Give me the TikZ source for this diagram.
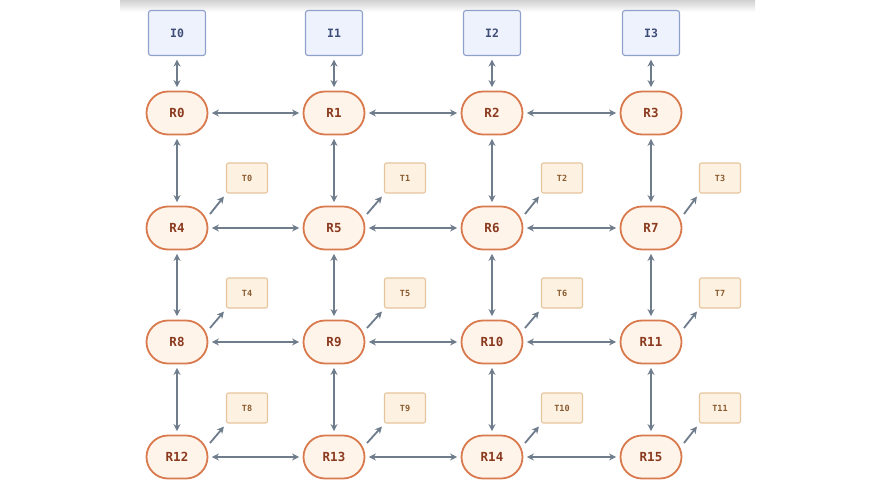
\documentclass[tikz,border=0pt]{standalone}
\usepackage{fontspec}
\setmonofont{DejaVu Sans Mono}
\usetikzlibrary{shapes.misc,arrows.meta}
\definecolor{ifill}{HTML}{EEF2FC}
\definecolor{idraw}{HTML}{8FA0CC}
\definecolor{itext}{HTML}{3E4C78}
\definecolor{rfill}{HTML}{FFF4EA}
\definecolor{rdraw}{HTML}{D97A4E}
\definecolor{rtext}{HTML}{8A3A1E}
\definecolor{tfill}{HTML}{FDF2E2}
\definecolor{tdraw}{HTML}{E6C49C}
\definecolor{ttext}{HTML}{8A5A2E}
\definecolor{lnk}{HTML}{6E7C8C}
\tikzset{
  ibox/.style={draw=idraw, fill=ifill, line width=1.1pt, rounded corners=2.5pt, minimum width=57pt, minimum height=45pt, inner sep=0pt, font=\ttfamily\bfseries\fontsize{11.5}{11.5}\selectfont, text=itext},
  rbox/.style={rounded rectangle, draw=rdraw, fill=rfill, line width=1.8pt, minimum width=61pt, minimum height=43pt, inner sep=0pt, font=\ttfamily\bfseries\fontsize{12.5}{12.5}\selectfont, text=rtext},
  tbox/.style={draw=tdraw, fill=tfill, line width=1.1pt, rounded corners=2pt, minimum width=41pt, minimum height=30pt, inner sep=0pt, font=\ttfamily\bfseries\fontsize{8.5}{8.5}\selectfont, text=ttext},
  link/.style={draw=lnk, line width=1.8pt, {Stealth[length=7pt,width=7pt]}-{Stealth[length=7pt,width=7pt]}, shorten <=3.5pt, shorten >=3.5pt},
  tlink/.style={draw=lnk, line width=1.8pt, -{Stealth[length=7pt,width=7pt]}}
}
\begin{document}
\begin{tikzpicture}[x=1pt,y=-1pt]
\useasboundingbox (0,0) rectangle (876,493);
\fill[white] (0,0) rectangle (876,493);
\shade[top color=black!18, bottom color=white] (120,0) rectangle (755,12);
% interface nodes
\foreach \i/\x in {0/177,1/334,2/492,3/651}{
  \node[ibox] (I\i) at (\x,33) {I\i};
}
% routers
\foreach \r/\y in {0/113,1/228,2/342,3/457}{
  \foreach \c/\x in {0/177,1/334,2/492,3/651}{
    \pgfmathtruncatemacro\n{\r*4+\c}
    \node[rbox] (R\n) at (\x,\y) {R\n};
  }
}
% tiles
\foreach \t/\x/\y in {0/247/178,1/405/178,2/562/178,3/720/178,
                      4/247/293,5/405/293,6/562/293,7/720/293,
                      8/247/408,9/405/408,10/562/408,11/720/408}{
  \node[tbox] (T\t) at (\x,\y) {T\t};
}
% interface links
\foreach \i in {0,1,2,3}{ \draw[link] (I\i) -- (R\i); }
% horizontal links
\foreach \a/\b in {0/1,1/2,2/3,4/5,5/6,6/7,8/9,9/10,10/11,12/13,13/14,14/15}{
  \draw[link] (R\a) -- (R\b);
}
% vertical links
\foreach \a/\b in {0/4,1/5,2/6,3/7,4/8,5/9,6/10,7/11,8/12,9/13,10/14,11/15}{
  \draw[link] (R\a) -- (R\b);
}
% router to tile links
\foreach \r/\t in {4/0,5/1,6/2,7/3,8/4,9/5,10/6,11/7,12/8,13/9,14/10,15/11}{
  \draw[tlink] ([shift={(33,-14)}]R\r.center) -- ([shift={(-2,3)}]T\t.south west);
}
\end{tikzpicture}
\end{document}
